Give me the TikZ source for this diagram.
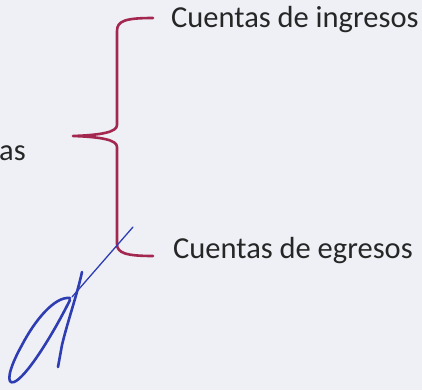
\documentclass[tikz,border=0pt]{standalone}
\usepackage{fontspec}
\setmainfont{Carlito}
\usepackage{xcolor}
\usepackage{tikz}
\usetikzlibrary{positioning,calc}

\definecolor{paper}{HTML}{EEF0F6}
\definecolor{braceRed}{HTML}{A3274F}
\definecolor{inkBlue}{HTML}{2E3DB2}

\tikzset{
  Label/.style={font=\fontsize{30.5}{32}\selectfont, text=black!85, inner sep=0pt},
  BraceLine/.style={draw=braceRed, line width=2.6pt, line cap=round, line join=round},
  Ink/.style={draw=inkBlue, line width=2.6pt, line cap=round, line join=round}
}

\begin{document}
\begin{tikzpicture}[x=1pt,y=-1pt]
  \fill[paper] (0,0) rectangle (422,390);
  \useasboundingbox (0,0) rectangle (422,390);

  % labels
  \node[Label, anchor=base west] (ing) at (171,28) {Cuentas de ingresos};
  \node[Label, anchor=base west] (egr) at (173,258) {Cuentas de egresos};
  \node[Label, anchor=base west] (cta) at (-1,160) {as};

  % brace
  \coordinate (top) at (153,18);
  \coordinate (tip) at (73,136);
  \coordinate (bot) at (153,256);
  \draw[BraceLine] (top) .. controls (125,18) and (117,21) .. (117,31)
    -- (117,125) .. controls (117,132) and (102,135) .. (tip)
    .. controls (102,137) and (117,140) .. (117,147)
    -- (117,244) .. controls (117,253) and (126,256) .. (bot);

  % signature
  \draw[Ink] (70,298) .. controls (55,296) and (35,320) .. (22,345)
    .. controls (8,370) and (6,385) .. (14,382)
    .. controls (25,378) and (50,340) .. (70,300);
  \draw[Ink] (82,272) .. controls (77,295) and (68,320) .. (62,345) -- (58,367);
  \draw[Ink, line width=1.3pt] (72,297) -- (133,227);
\end{tikzpicture}
\end{document}
